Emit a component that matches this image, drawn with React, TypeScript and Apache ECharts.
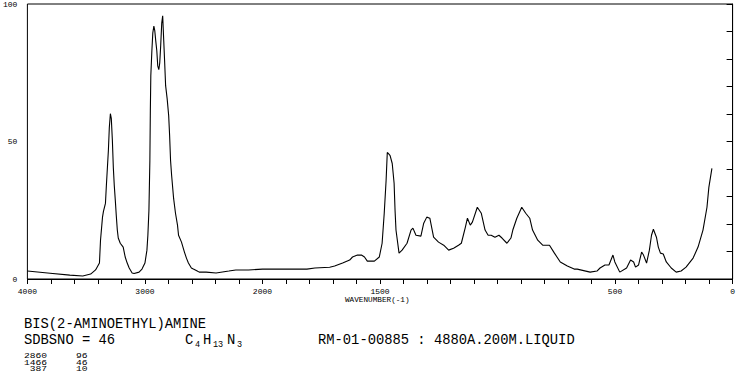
import React, { useEffect, useRef } from "react";
import * as echarts from "echarts";

// Spectrum (wavenumber in cm-1, intensity 0-100)
const wavenumbers = [
  4000, 3807, 3639, 3529, 3462, 3420, 3387, 3378, 3361, 3353, 3336, 3328, 3311, 3303, 3294, 3286,
  3277, 3269, 3261, 3252, 3244, 3235, 3227, 3210, 3185, 3168, 3151, 3134, 3109, 3092, 3050, 3025,
  3000, 2983, 2975, 2966, 2958, 2954, 2950, 2941, 2933, 2924, 2916, 2908, 2899, 2891, 2882, 2874,
  2866, 2857, 2849, 2840, 2832, 2824, 2811, 2798, 2790, 2782, 2773, 2756, 2740, 2723, 2714, 2689,
  2664, 2647, 2630, 2605, 2588, 2555, 2538, 2479, 2395, 2286, 2227, 2118, 2000,
  1954, 1861, 1811, 1777, 1714, 1693, 1659, 1629, 1617, 1596, 1579, 1566, 1554, 1524, 1503, 1491,
  1482, 1474, 1469, 1461, 1457, 1448, 1440, 1436, 1432, 1419, 1406, 1385, 1368, 1360, 1347, 1326,
  1314, 1301, 1288, 1272, 1251, 1229, 1208, 1187, 1166, 1154, 1137, 1128, 1116, 1107, 1086, 1069,
  1053, 1040, 1027, 1011, 994, 981, 960, 943, 935, 918, 897, 880, 863, 851, 829, 808,
  779, 758, 733, 703, 674, 661, 606, 577, 564, 543, 526, 509, 501, 480, 451, 434,
  421, 413, 400, 387, 379, 366, 354, 345, 337, 324, 316, 307, 295, 282, 261, 240,
  219, 198, 168, 147, 126, 109, 101, 88,
];
const intensities = [
  2.9, 2.1, 1.4, 1.1, 1.8, 3.3, 5.8, 14.1, 22.5, 24.6, 27.5, 34.1, 46.7, 55.1, 60.1, 58.3,
  50.4, 40.6, 34.1, 28.6, 23.2, 17.8, 14.9, 13.0, 11.6, 8.0, 5.8, 4.0, 2.2, 2.0, 2.5, 3.6,
  5.8, 10.5, 15.9, 25.0, 43.1, 61.2, 73.9, 83.0, 89.5, 92.0, 90.2, 86.6, 83.0, 77.5, 76.1, 78.6,
  84.8, 93.1, 95.7, 86.6, 78.6, 70.3, 65.6, 59.4, 52.2, 43.1, 37.7, 29.3, 23.9, 19.6, 15.9, 13.4,
  9.8, 7.6, 5.8, 4.0, 3.6, 2.9, 2.5, 2.5, 2.2, 2.9, 3.3, 3.3, 3.6,
  3.6, 3.6, 3.6, 4.0, 4.3, 4.7, 5.8, 6.9, 8.0, 8.7, 8.7, 8.0, 6.5, 6.5, 8.0, 13.0,
  23.9, 35.9, 46.0, 45.3, 44.9, 42.0, 34.8, 25.0, 17.8, 9.4, 10.5, 13.0, 17.8, 18.5, 15.9, 15.6,
  20.3, 22.5, 22.1, 15.2, 13.4, 12.3, 10.5, 11.2, 12.3, 13.0, 18.8, 22.1, 19.6, 20.7, 26.1, 23.9,
  17.8, 15.9, 15.9, 15.2, 15.9, 14.9, 13.0, 14.9, 17.8, 22.1, 26.1, 23.9, 22.1, 17.8, 14.1, 12.3,
  12.3, 9.4, 6.2, 4.7, 3.6, 3.6, 2.5, 2.9, 4.0, 5.1, 5.1, 8.7, 6.2, 2.5, 4.0, 6.9,
  6.2, 4.3, 5.1, 9.8, 8.7, 5.8, 10.5, 15.9, 18.1, 15.2, 11.6, 9.4, 9.1, 6.2, 4.0, 2.5,
  2.9, 4.3, 7.6, 11.6, 17.8, 26.1, 33.3, 40.2,
];

// Axis tick labels (wavenumber values that get a label)
const xTickLabels = [4000, 3000, 2000, 1500, 500, 0];
const yTickLabels = [0, 50, 100];

// Header / peak table texts
const compoundName = "BIS(2-AMINOETHYL)AMINE";
const sdbsNo = "SDBSNO = 46";
const measurement = "RM-01-00885 : 4880A.200M.LIQUID";
const xAxisTitle = "WAVENUMBER(-1)";
const peakWavenumbers = ["2860", "1466", " 387"];
const peakIntensities = ["96", "46", "10"];

// scale changes at 2000 cm-1: above 2000 the axis is compressed by 2
const toPos = (w: number) => (w <= 2000 ? w : 2000 + (w - 2000) / 2);
const fromPos = (p: number) => (p <= 2000 ? p : 2000 + (p - 2000) * 2);

const MONO = "Liberation Mono";

export default function App() {
  const ref = useRef<HTMLDivElement>(null);
  useEffect(() => {
    if (!ref.current) return;
    const chart = echarts.init(ref.current, undefined, { renderer: "svg" });
    const data = wavenumbers.map((w, i) => [toPos(w), intensities[i]]);
    const bigFont = `13.8px "${MONO}"`;
    const smallFont = `6.4px "${MONO}"`;
    const subFont = `8.5px "${MONO}"`;
    const txt = (text: string, x: number, y: number, font: string, scaleX = 1) => ({
      type: "text",
      x,
      y,
      scaleX,
      silent: true,
      style: { text, font, fill: "#000", textAlign: "left", textVerticalAlign: "middle" },
    });
    const graphics: any[] = [
      txt(compoundName, 24, 324, bigFont),
      txt(sdbsNo, 24, 340.5, bigFont),
      txt("C", 185, 340.5, bigFont),
      txt("4", 195, 344.5, subFont),
      txt("H", 203, 340.5, bigFont),
      txt("13", 213, 344.5, subFont),
      txt("N", 227, 340.5, bigFont),
      txt("3", 237, 344.5, subFont),
      txt(measurement, 318, 340.5, bigFont),
      txt(xAxisTitle, 345, 299.5, `7.7px "${MONO}"`),
    ];
    const rowY = [356.5, 363, 369.5];
    peakWavenumbers.forEach((p, i) => {
      graphics.push(txt(p, 24, rowY[i], smallFont, 1.5));
      graphics.push(txt(peakIntensities[i], 76, rowY[i], smallFont, 1.5));
    });

    chart.setOption({
      animation: false,
      backgroundColor: "#fff",
      grid: {
        left: 24,
        right: 1,
        top: 3,
        bottom: 110,
        show: true,
        borderColor: "#000",
        borderWidth: 1,
        backgroundColor: "transparent",
      },
      xAxis: {
        type: "value",
        min: 0,
        max: 3000,
        interval: 100,
        inverse: true,
        splitLine: { show: false },
        axisLine: { show: true, lineStyle: { color: "#000", width: 1 } },
        axisTick: { show: true, length: 5, lineStyle: { color: "#000", width: 1 } },
        axisLabel: {
          show: true,
          margin: 8,
          color: "#000",
          fontFamily: MONO,
          fontSize: 8,
          showMinLabel: true,
          showMaxLabel: true,
          formatter: (v: number) => {
            const w = Math.round(fromPos(v));
            return xTickLabels.includes(w) ? String(w) : "";
          },
        },
      },
      yAxis: {
        type: "value",
        min: 0,
        max: 100,
        interval: 10,
        splitLine: { show: false },
        axisLine: { show: true, lineStyle: { color: "#000", width: 1 } },
        axisTick: { show: true, length: 6, lineStyle: { color: "#000", width: 1 } },
        axisLabel: {
          show: true,
          margin: 10,
          color: "#000",
          fontFamily: MONO,
          fontSize: 8,
          showMinLabel: true,
          showMaxLabel: true,
          formatter: (v: number) => (yTickLabels.includes(v) ? String(v) : ""),
        },
      },
      series: [
        {
          type: "line",
          data,
          showSymbol: false,
          symbol: "none",
          smooth: false,
          clip: false,
          lineStyle: { color: "#000", width: 1.1 },
        },
      ],
      graphic: graphics,
    });
    return () => chart.dispose();
  }, []);
  return (
    <div
      ref={ref}
      style={{ position: "absolute", left: 0, top: 0, width: 738, height: 389, background: "#fff" }}
    />
  );
}
